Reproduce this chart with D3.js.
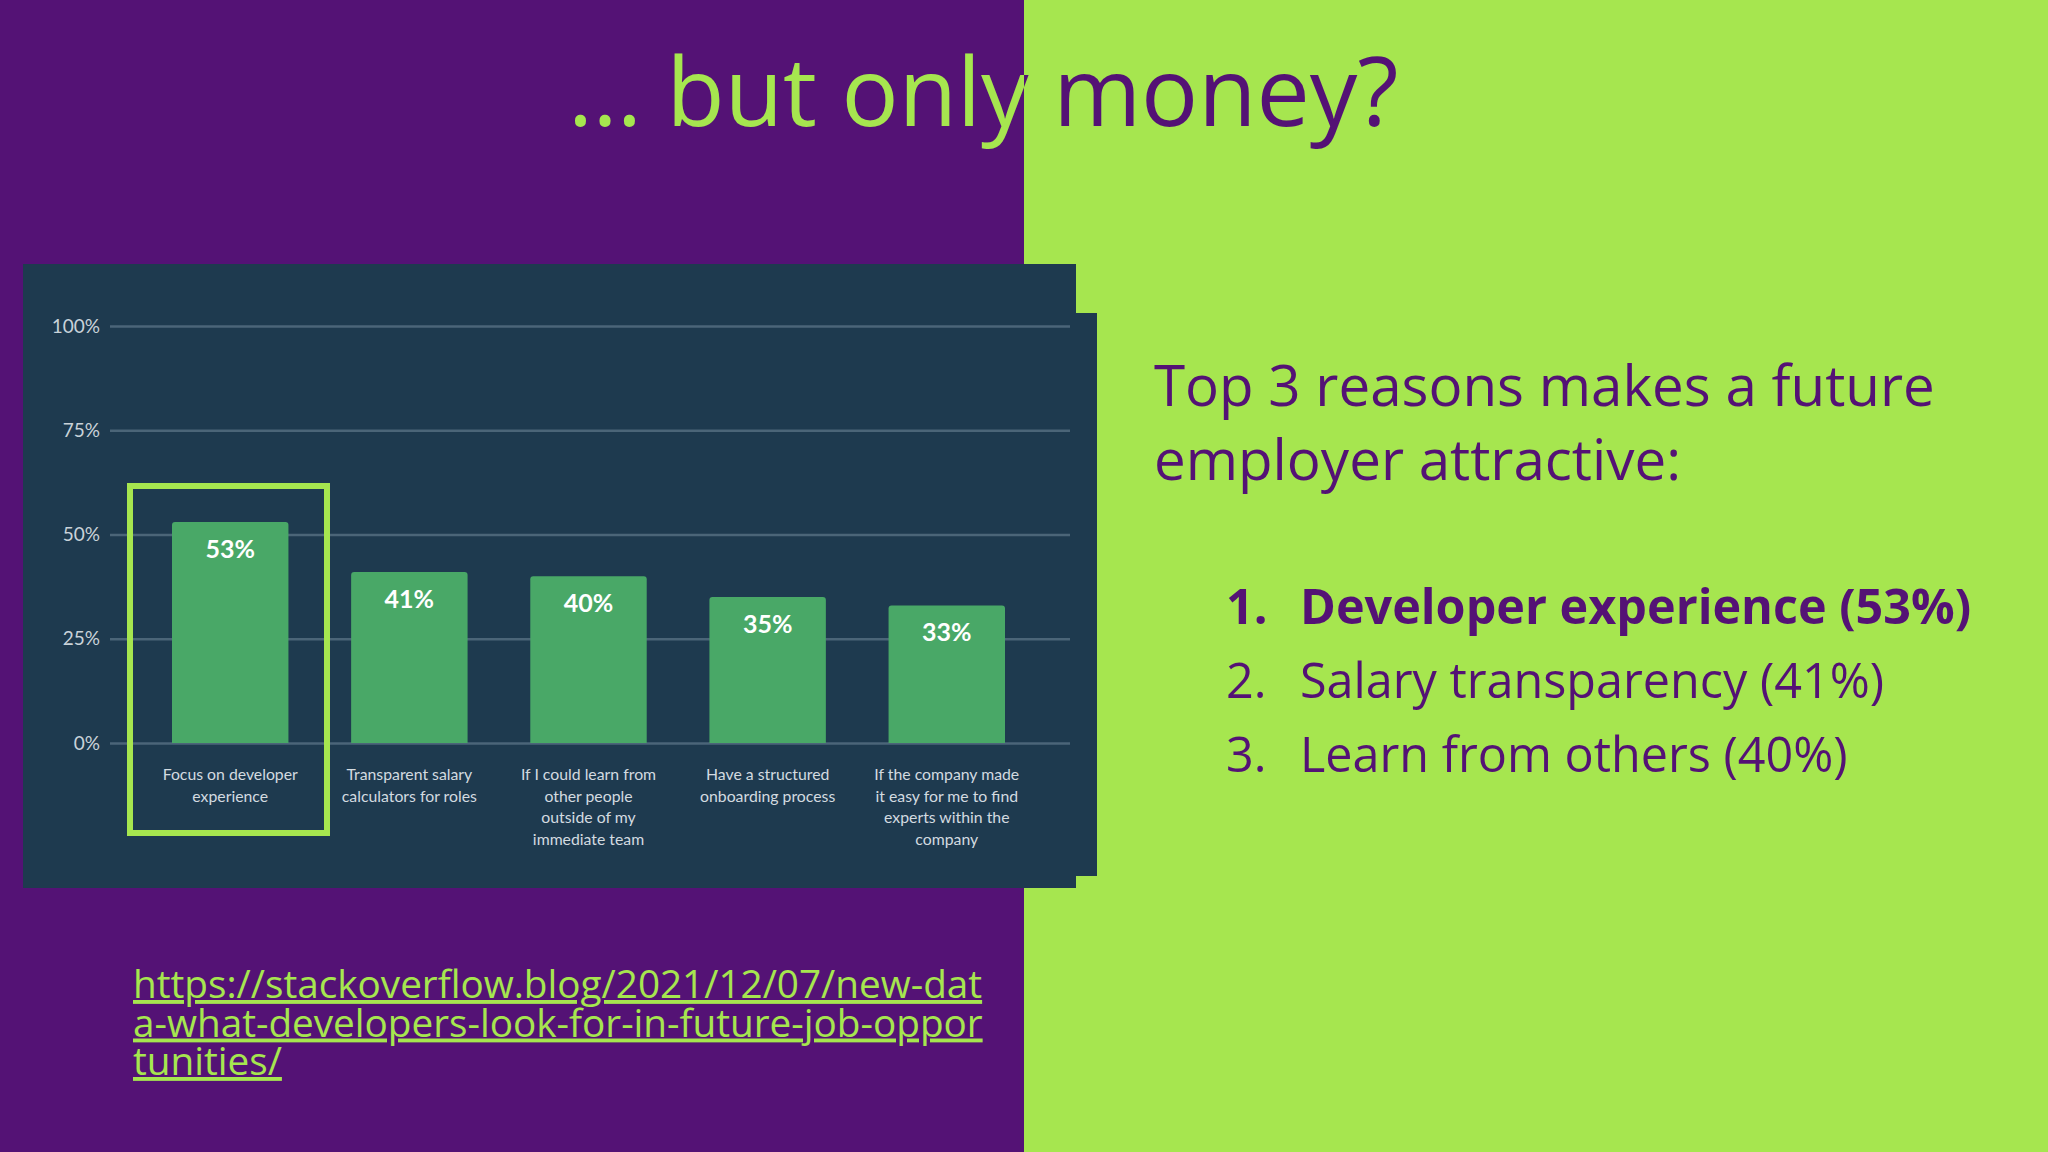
<!DOCTYPE html>
<html>
<head>
<meta charset="utf-8">
<script src="https://cdn.jsdelivr.net/npm/d3@7"></script>
<style>
  html, body { margin: 0; padding: 0; background: #541275; }
  svg { display: block; }
</style>
</head>
<body>
<div id="slide"></div>
<script>
// chart data
const categories = [
    ["Focus on developer", "experience"],
    ["Transparent salary", "calculators for roles"],
    ["If I could learn from", "other people", "outside of my", "immediate team"],
    ["Have a structured", "onboarding process"],
    ["If the company made", "it easy for me to find", "experts within the", "company"]
];
const values = [53, 41, 40, 35, 33];
const yTicks = [0, 25, 50, 75, 100];

// slide text
const title = "\u2026 but only money?";
const headline = ["Top 3 reasons makes a future", "employer attractive:"];
const reasons = ["Developer experience (53%)", "Salary transparency (41%)", "Learn from others (40%)"];
const sourceLines = [
    "https://stackoverflow.blog/2021/12/07/new-dat",
    "a-what-developers-look-for-in-future-job-oppor",
    "tunities/"
];

const W = 2048, H = 1152;
const purple = "#541275";
const lime = "#a6e64f";
const navy = "#1e3a4f";

const svg = d3.select("#slide")
    .append("svg")
    .attr("width", W)
    .attr("height", H);

// two-tone background
svg.append("rect").attr("x", 0).attr("y", 0).attr("width", 1024).attr("height", H).attr("fill", purple);
svg.append("rect").attr("x", 1024).attr("y", 0).attr("width", W - 1024).attr("height", H).attr("fill", lime);

// title, colour flips where the background flips
const defs = svg.append("defs");
defs.append("clipPath").attr("id", "leftHalf")
    .append("rect").attr("x", 0).attr("y", 0).attr("width", 1024).attr("height", H);
defs.append("clipPath").attr("id", "rightHalf")
    .append("rect").attr("x", 1024).attr("y", 0).attr("width", W - 1024).attr("height", H);

[["leftHalf", lime], ["rightHalf", purple]].forEach(([clip, col]) => {
    svg.append("text")
        .attr("clip-path", `url(#${clip})`)
        .attr("x", 568)
        .attr("y", 126)
        .attr("fill", col)
        .style("font-family", "Open Sans")
        .style("font-size", "95px")
        .text(title);
});

// chart panel (screenshot look with a small step on the right)
svg.append("rect").attr("x", 23).attr("y", 264).attr("width", 1053).attr("height", 624).attr("fill", navy);
svg.append("rect").attr("x", 1075).attr("y", 313).attr("width", 22).attr("height", 563).attr("fill", navy);

const x = d3.scaleBand()
    .domain(d3.range(values.length))
    .range([172, 1005])
    .paddingInner(0.35)
    .paddingOuter(0);

const y = d3.scaleLinear()
    .domain([0, 100])
    .range([743, 326]);

// gridlines + tick labels
const yAxis = svg.append("g")
    .attr("transform", "translate(110,0)")
    .call(d3.axisLeft(y)
        .tickValues(yTicks)
        .tickSize(-960)
        .tickPadding(10)
        .tickFormat(d => d + "%"));
yAxis.select(".domain").remove();
yAxis.selectAll(".tick line")
    .attr("stroke", "#4b6578")
    .attr("stroke-width", 2.5);
yAxis.selectAll(".tick text")
    .attr("fill", "#c9d2d9")
    .style("font-family", "Lato")
    .style("font-size", "19px");

// bars
svg.append("g")
    .selectAll("path")
    .data(values)
    .enter()
    .append("path")
    .attr("fill", "#49a867")
    .attr("d", (d, i) => {
        const x0 = x(i), x1 = x(i) + x.bandwidth(), y0 = y(0), y1 = y(d), r = 3;
        return `M${x0},${y0}V${y1 + r}Q${x0},${y1} ${x0 + r},${y1}H${x1 - r}Q${x1},${y1} ${x1},${y1 + r}V${y0}Z`;
    });

// value labels
svg.append("g")
    .selectAll("text")
    .data(values)
    .enter()
    .append("text")
    .attr("x", (d, i) => x(i) + x.bandwidth() / 2)
    .attr("y", d => y(d) + 36)
    .attr("text-anchor", "middle")
    .attr("fill", "#ffffff")
    .style("font-family", "Lato")
    .style("font-weight", "bold")
    .style("font-size", "25px")
    .text(d => d + "%");

// category labels, one text per line
svg.append("g")
    .selectAll("g")
    .data(categories)
    .enter()
    .append("g")
    .attr("transform", (d, i) => `translate(${x(i) + x.bandwidth() / 2},0)`)
    .selectAll("text")
    .data(d => d)
    .enter()
    .append("text")
    .attr("y", (d, j) => 780 + j * 21.5)
    .attr("text-anchor", "middle")
    .attr("fill", "#d3dbe0")
    .style("font-family", "Lato")
    .style("font-size", "15.8px")
    .text(d => d);

// highlight frame around the first category
svg.append("rect")
    .attr("x", 130)
    .attr("y", 486)
    .attr("width", 197)
    .attr("height", 347)
    .attr("fill", "none")
    .attr("stroke", lime)
    .attr("stroke-width", 6);

// headline on the right
svg.append("text")
    .attr("fill", purple)
    .style("font-family", "Open Sans")
    .style("font-size", "56.5px")
    .selectAll("tspan")
    .data(headline)
    .enter()
    .append("tspan")
    .attr("x", 1154)
    .attr("y", (d, i) => 406 + i * 74)
    .text(d => d);

// numbered list
const item = svg.append("g")
    .selectAll("g")
    .data(reasons)
    .enter()
    .append("g")
    .attr("transform", (d, i) => `translate(0,${624 + i * 74})`)
    .style("font-family", "Open Sans")
    .style("font-size", "48.5px")
    .style("font-weight", (d, i) => i === 0 ? "bold" : "normal")
    .attr("fill", purple);
item.append("text").attr("x", 1226).text((d, i) => (i + 1) + ".");
item.append("text").attr("x", 1300).text(d => d);

// source link
svg.append("text")
    .attr("fill", lime)
    .style("font-family", "Open Sans")
    .style("font-size", "38.7px")
    .style("text-decoration", "underline")
    .selectAll("tspan")
    .data(sourceLines)
    .enter()
    .append("tspan")
    .attr("x", 133)
    .attr("y", (d, i) => 998 + i * 38.5)
    .text(d => d);
</script>
</body>
</html>
